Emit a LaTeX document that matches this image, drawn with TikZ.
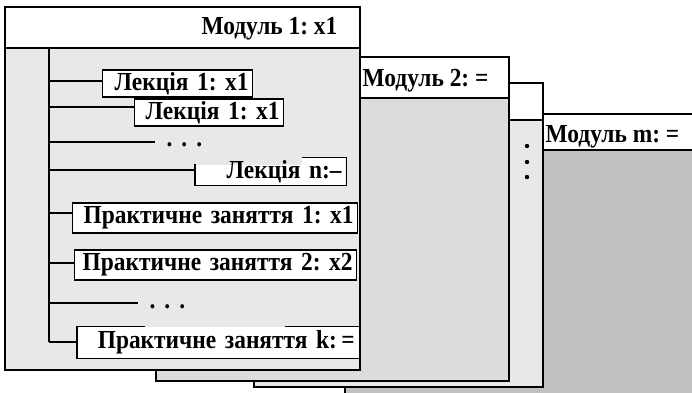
\documentclass[tikz,border=0pt]{standalone}
\usepackage{fontspec}
\setmainfont{Liberation Serif}[FakeStretch=0.9]
\frenchspacing
\usetikzlibrary{calc}
\definecolor{paleGray}{HTML}{E8E8E8}
\definecolor{midGray}{HTML}{DCDCDC}
\definecolor{darkGray}{HTML}{C0C0C0}

\begin{document}
\begin{tikzpicture}[x=1pt, y=-1pt, line width=1.3pt,
        font=\fontsize{26}{28}\selectfont\bfseries,
        item/.style={fill=white, anchor=west, inner xsep=4pt, inner ysep=0pt, align=right},
        dots/.style={anchor=west, inner xsep=11pt, inner ysep=0pt},
        title/.style={anchor=west, inner sep=0pt}]
            %\draw[lightgray] (0, 0) grid[step=50] (692, 392);
            \useasboundingbox (0, 0) rectangle (692, 392);
            \clip (0, 0) rectangle (692, 392);
            % module m (back)
            \filldraw[fill=darkGray] (345, 114) rectangle (720, 420);
            \filldraw[fill=white] (345, 114) rectangle (720, 150);
            \node[title] (title m) at (545, 137) {Модуль m: =};
            % module ...
            \filldraw[fill=paleGray] (254, 83) rectangle (543, 387);
            \filldraw[fill=white] (254, 83) rectangle (543, 120);
            \foreach \y in {146, 162, 177}
                \fill (527, \y) circle (2.2);
            % module 2
            \filldraw[fill=midGray] (156, 57) rectangle (509, 381);
            \filldraw[fill=white] (156, 57) rectangle (509, 98);
            \node[title] (title 2) at (362, 81) {Модуль 2: =};
            % module 1 (front)
            \filldraw[fill=paleGray] (5, 7) rectangle (360, 370);
            \filldraw[fill=white] (5, 7) rectangle (360, 48);
            \node[title, anchor=east] (title 1) at (338, 29) {Модуль 1: x1};
            % tree
            \coordinate (spine top) at (49, 48);
            \coordinate (spine end) at (49, 342);
            \draw (spine top) -- (spine end);
            \node[item, draw, text width=142pt, minimum height=27pt] (lecture 1) at (102, 83.5) {Лекція 1: x1};
            \node[item, draw, text width=141pt, minimum height=27pt] (lecture 2) at (134, 112.5) {Лекція 1: x1};
            \node[dots] (dots 1) at (155, 145) {.\hspace{9pt}.\hspace{9pt}.};
            \fill[white] (195, 165) -| (302, 158) -| (345, 185) -| cycle;
            \node[item, fill=none, text width=142pt, minimum height=27pt] (lecture n) at (195, 171.5) {Лекція n:–};
            \draw ($(lecture n.north west)+(0, 7)$) |- (lecture n.south east) |- ($(lecture n.north west)+(107, 0)$);
            \node[item, draw, text width=277pt, minimum height=30pt] (practice 1) at (72, 218) {Практичне заняття 1: x1};
            \node[item, draw, text width=274pt, minimum height=30pt] (practice 2) at (74, 265) {Практичне заняття 2: x2};
            \node[dots] (dots 2) at (138, 307) {.\hspace{9pt}.\hspace{9pt}.};
            \node[item, text width=273pt, minimum height=31pt] (practice k) at (77, 342.5) {Практичне заняття k:\,=};
            \draw ($(practice k.north west)+(68, 0)$) -| (practice k.south west) -| (practice k.north east) -- ($(practice k.north east)+(-74, 0)$);
            \foreach \y/\target in {81/lecture 1, 107/lecture 2, 142/dots 1, 170/lecture n,
                    213/practice 1, 263/practice 2, 303/dots 2, 342/practice k} {
                \coordinate (branch) at (49, \y);
                \draw (branch) -- (branch -| \target.west);
            }
\end{tikzpicture}
\end{document}
